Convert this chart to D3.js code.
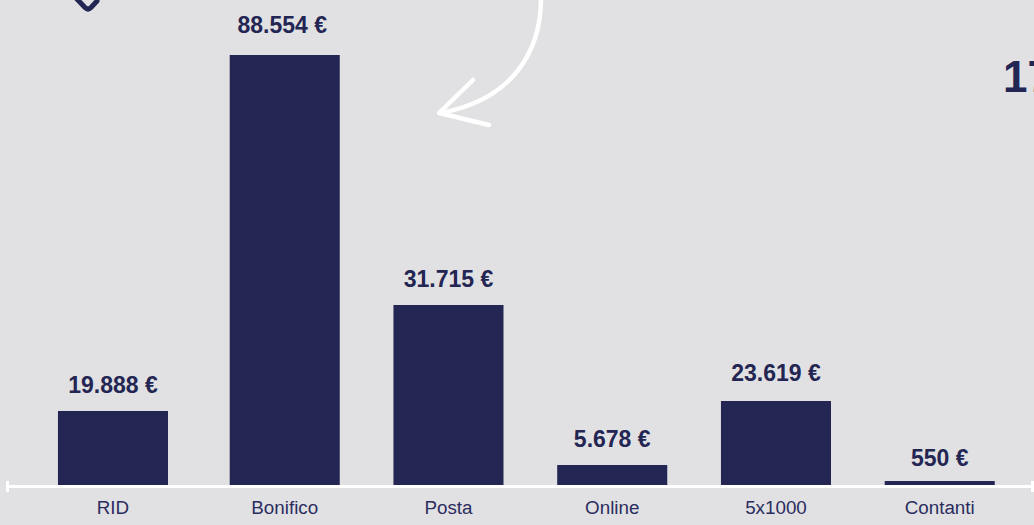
<!DOCTYPE html>
<html>
<head>
<meta charset="utf-8">
<script src="https://cdn.jsdelivr.net/npm/d3@7"></script>
<style>
  html, body { margin: 0; padding: 0; background: #e1e1e3; overflow: hidden; }
  svg { display: block; font-family: "Liberation Sans", Arial, sans-serif; }
  .tick text { font-size: 18.8px; fill: #2b2d5e; }
  .amount { font-size: 23px; font-weight: bold; fill: #232553; text-anchor: middle; }
</style>
</head>
<body>
<div id="vis"></div>
<script>
const categories = ["RID", "Bonifico", "Posta", "Online", "5x1000", "Contanti"];
// printed amounts
const amounts = ["19.888 €", "88.554 €", "31.715 €", "5.678 €", "23.619 €", "550 €"];
// bar lengths as drawn, in euro: the original bars are not proportional to their labels
const barValues = [15240, 88554, 37070, 4120, 17300, 820];

const w = 1034,
    h = 525,
    navy = "#232553",
    baseline = 485,
    labelGap = 18;

const svg = d3.select("#vis").append("svg")
    .attr("width", w)
    .attr("height", h);

const x = d3.scaleBand()
    .domain(categories)
    .range([39.1, 1021.6])
    .paddingInner(0.328)
    .paddingOuter(0.164);

// RID sits a bit further from its neighbour than the others do
const slot = d => x(d) - (d === "RID" ? 8 : 0);
const middle = d => slot(d) + x.bandwidth() / 2;

// the amounts were placed by hand, a few don't follow the common gap
const nudgeX = d => d === "Bonifico" ? -2.5 : 0;
const nudgeY = d => d === "Bonifico" ? -4 : d === "5x1000" ? -2 : d === "Contanti" ? 3 : 0;

const y = d3.scaleLinear()
    .domain([0, d3.max(barValues)])
    .range([baseline, 55]);

svg.selectAll("rect.bar")
    .data(categories)
  .enter().append("rect")
    .attr("class", "bar")
    .attr("x", d => slot(d))
    .attr("y", (d, i) => y(barValues[i]))
    .attr("width", x.bandwidth())
    .attr("height", (d, i) => baseline - y(barValues[i]))
    .attr("fill", navy);

svg.selectAll("text.amount")
    .data(categories)
  .enter().append("text")
    .attr("class", "amount")
    .attr("x", d => middle(d) + nudgeX(d))
    .attr("y", (d, i) => y(barValues[i]) - labelGap + nudgeY(d))
    .text((d, i) => amounts[i]);

// axis labels
const axis = svg.append("g")
    .attr("transform", "translate(0," + baseline + ")")
    .call(d3.axisBottom(x).tickSize(0).tickPadding(16));
axis.select(".domain").remove();
axis.selectAll(".tick")
    .attr("transform", d => "translate(" + middle(d) + ",0)");

// white base line with its two end caps
const rule = svg.append("g")
    .attr("stroke", "#fff")
    .attr("stroke-width", 3);
rule.append("line").attr("x1", 7).attr("x2", 1032).attr("y1", baseline + 1.5).attr("y2", baseline + 1.5);
rule.append("line").attr("x1", 7.5).attr("x2", 7.5).attr("y1", baseline - 4).attr("y2", baseline + 7);
rule.append("line").attr("x1", 1032.5).attr("x2", 1032.5).attr("y1", baseline - 4).attr("y2", baseline + 7);

// hand drawn arrow coming from above the frame
const arrow = svg.append("g")
    .attr("fill", "none")
    .attr("stroke", "#fff")
    .attr("stroke-width", 4.5)
    .attr("stroke-linecap", "round")
    .attr("stroke-linejoin", "round");
arrow.append("path").attr("d", "M541,-5C542,52 512,100 440,113");
arrow.append("path").attr("d", "M473,80L439,113L489,125");

// bottom corner of the icon cut by the top edge
svg.append("path")
    .attr("d", "M75,-3L85,7.5Q88,10.5 91,7.5L97,1")
    .attr("fill", "none")
    .attr("stroke", navy)
    .attr("stroke-width", 5)
    .attr("stroke-linecap", "round");

// total, cut by the right edge
svg.append("text")
    .attr("x", 1003)
    .attr("y", 92)
    .attr("font-size", 44)
    .attr("font-weight", "bold")
    .attr("fill", navy)
    .text("17");
</script>
</body>
</html>
